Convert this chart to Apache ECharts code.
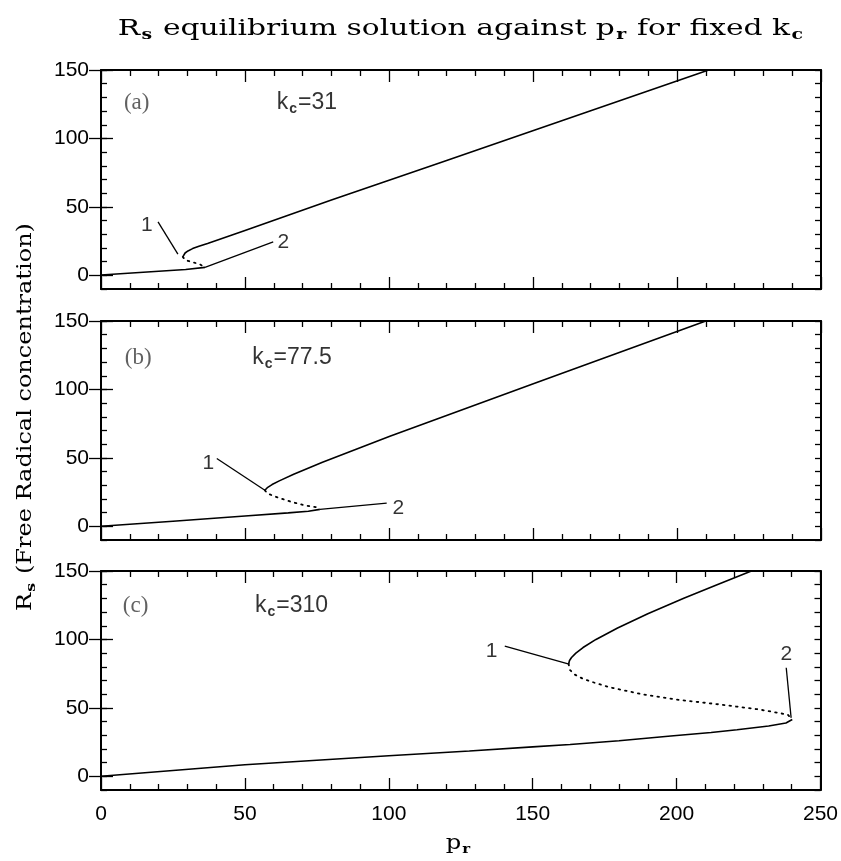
<!DOCTYPE html>
<html>
<head>
<meta charset="utf-8">
<script src="https://cdn.jsdelivr.net/npm/echarts/dist/echarts.min.js"></script>
<style>
html,body{margin:0;padding:0;background:#fff;}
#chart{width:841px;height:861px;}
</style>
</head>
<body>
<div id="chart"></div>
<script>
// ---------- data (p_r, R_s) ----------
const xTickLabels = [0, 50, 100, 150, 200, 250];
const yTickLabels = [0, 50, 100, 150];
const yMinorTicks = [-10, 0, 10, 20, 30, 40, 50, 60, 70, 80, 90, 100, 110, 120, 130, 140, 150];

// panel (a) k_c = 31
const aLower = [[0, 0.2], [29.4, 4.3], [36.1, 5.8]];
const aUnstable = [[28.4, 13.5], [28.6, 12.3], [29.3, 11.1], [31.3, 9.9], [34.2, 8.2], [36.1, 5.8]];
const aUpper = [[28.4, 13.5], [28.6, 14.8], [29.2, 16.3], [30.2, 17.8], [31.8, 19.5], [34, 21.2], [37, 23.3], [50, 32.8], [80, 55], [118, 82.5], [211, 150]];
const aLeader1 = [[19.8, 39.1], [26.7, 15.5]];
const aLeader2 = [[36.1, 5.8], [59.8, 24.5]];
const aLabel1 = [15.9, 36.7];
const aLabel2 = [63.3, 24.5];
const aTag = [12.4, 126];
const aKc = [61, 126];

// panel (b) k_c = 77.5
const bLower = [[0, 0], [25, 3.7], [50, 7.5], [65, 9.8], [72, 11], [76, 12.4]];
const bUnstable = [[56.9, 26.3], [57.8, 24], [61.3, 21.1], [66, 17.9], [70.6, 15.4], [75.1, 13.8], [76, 12.4]];
const bUpper = [[56.9, 26.3], [57.2, 27.4], [57.9, 28.5], [59.4, 30.5], [61.9, 33.2], [66.9, 38], [76.9, 46.8], [100.3, 65.8], [151.3, 105], [210, 150]];
const bLeader1 = [[40.2, 49.5], [56.9, 26.3]];
const bLeader2 = [[76, 12.4], [99.2, 17]];
const bLabel1 = [37.3, 45.9];
const bLabel2 = [103.2, 13.5];
const bTag = [12.9, 123];
const bKc = [52.5, 123];

// panel (c) k_c = 310
const cLower = [[0, 0], [50, 8.5], [100, 15], [128, 18.5], [150, 21.5], [163, 23.2], [180, 26], [198, 29.5], [212, 32], [221, 34], [232, 36.8], [238, 39], [240.2, 41.5]];
const cUnstable = [[162.5, 82.2], [162.8, 78], [164.5, 74.5], [167.5, 71.2], [172, 68], [176.7, 65.1], [188.3, 59.8], [199.9, 56.1], [215, 52.5], [228.8, 48.8], [238.6, 45.1], [240.2, 41.5]];
const cUpper = [[162.5, 82.2], [162.8, 84.6], [163.5, 86.8], [165, 90], [167.5, 94.1], [172, 100], [179.5, 108.4], [190, 118.8], [202.5, 130.1], [214.5, 140.4], [226, 150]];
const cLeader1 = [[140.3, 95.1], [162.3, 82.2]];
const cLeader2 = [[238.1, 79.3], [239.8, 42.7]];
const cLabel1 = [135.7, 91.5];
const cLabel2 = [238.1, 89.5];
const cTag = [12, 124.4];
const cKc = [53.5, 124.4];

const panels = [
  {lower: aLower, unstable: aUnstable, upper: aUpper, l1: aLeader1, l2: aLeader2, t1: aLabel1, t2: aLabel2, tag: aTag, tagText: '(a)', kc: aKc, kcText: '31'},
  {lower: bLower, unstable: bUnstable, upper: bUpper, l1: bLeader1, l2: bLeader2, t1: bLabel1, t2: bLabel2, tag: bTag, tagText: '(b)', kc: bKc, kcText: '77.5'},
  {lower: cLower, unstable: cUnstable, upper: cUpper, l1: cLeader1, l2: cLeader2, t1: cLabel1, t2: cLabel2, tag: cTag, tagText: '(c)', kc: cKc, kcText: '310'}
];

// ---------- layout ----------
const SANS = 'Liberation Sans, Arial, sans-serif';
const SERIF = 'DejaVu Serif, serif';
const gridTops = [70, 321, 571];
const gridLeft = 101, gridWidth = 720, gridHeight = 219;

const grids = [], xAxes = [], yAxes = [], series = [];

gridTops.forEach((top, i) => {
  grids.push({left: gridLeft, top: top, width: gridWidth, height: gridHeight, show: false});
  const isLast = i === gridTops.length - 1;
  ['bottom', 'top'].forEach(pos => {
    xAxes.push({
      type: 'value', gridIndex: i, position: pos, min: 0, max: 250, interval: 50,
      axisLine: {show: true, onZero: false, lineStyle: {color: '#000', width: 2}},
      axisTick: {show: true, inside: true, length: 12, lineStyle: {color: '#000', width: 1.3}},
      minorTick: {show: true, splitNumber: 5, length: 6, lineStyle: {color: '#000', width: 1.3}},
      axisLabel: {show: isLast && pos === 'bottom', customValues: xTickLabels, margin: 14,
        fontFamily: SANS, fontSize: 21, color: '#000'},
      splitLine: {show: false}, minorSplitLine: {show: false}
    });
  });
  ['left', 'right'].forEach(pos => {
    // minor ticks (every 10)
    yAxes.push({
      type: 'value', gridIndex: i, position: pos, min: -10, max: 150, interval: 10,
      axisLine: {show: true, onZero: false, lineStyle: {color: '#000', width: 2}},
      axisTick: {show: true, inside: true, length: 6, customValues: yMinorTicks, lineStyle: {color: '#000', width: 1.3}},
      axisLabel: {show: pos === 'left', customValues: yTickLabels, margin: 12,
        fontFamily: SANS, fontSize: 21, color: '#000'},
      splitLine: {show: false}
    });
    // major ticks (every 50)
    yAxes.push({
      type: 'value', gridIndex: i, position: pos, min: -10, max: 150, interval: 10,
      axisLine: {show: false},
      axisTick: {show: true, inside: true, length: 12, customValues: yTickLabels, lineStyle: {color: '#000', width: 1.3}},
      axisLabel: {show: false},
      splitLine: {show: false}
    });
  });
});

const solid = {color: '#000', width: 1.6};
const thin = {color: '#000', width: 1.3};

panels.forEach((p, i) => {
  const xi = 2 * i, yi = 4 * i;
  const base = {type: 'line', xAxisIndex: xi, yAxisIndex: yi, symbol: 'none', smooth: false, silent: true, animation: false};
  series.push(Object.assign({}, base, {name: 'lower' + i, data: p.lower, lineStyle: solid}));
  series.push(Object.assign({}, base, {name: 'unstable' + i, data: p.unstable, lineStyle: {color: '#000', width: 1.8, type: [1.6, 5], cap: 'round'}}));
  series.push(Object.assign({}, base, {name: 'upper' + i, data: p.upper, lineStyle: solid}));
  series.push(Object.assign({}, base, {name: 'leader1_' + i, data: p.l1, lineStyle: thin}));
  series.push(Object.assign({}, base, {name: 'leader2_' + i, data: p.l2, lineStyle: thin}));
  const txt = (pt, text, opts) => ({
    type: 'scatter', xAxisIndex: xi, yAxisIndex: yi, symbolSize: 0, silent: true, animation: false,
    data: [pt],
    label: Object.assign({show: true, formatter: text, color: '#000'}, opts)
  });
  series.push(txt(p.t1, '1', {position: 'inside', fontFamily: SANS, fontSize: 21}));
  series.push(txt(p.t2, '2', {position: 'inside', fontFamily: SANS, fontSize: 21}));
  series.push(txt(p.tag, p.tagText, {position: 'inside', fontFamily: 'Liberation Serif, serif', fontSize: 23, color: '#3a3a3a'}));
  series.push(txt(p.kc, '{n|k}{s|c}{n|=' + p.kcText + '}', {position: 'right', distance: 0,
    rich: {n: {fontFamily: SANS, fontSize: 23, color: '#000'},
           s: {fontFamily: SANS, fontSize: 14, fontWeight: 'bold', color: '#000', padding: [13, 1, 0, 1]}}}));
});

const chart = echarts.init(document.getElementById('chart'), null, {renderer: 'canvas'});
chart.setOption({
  animation: false,
  backgroundColor: '#fff',
  grid: grids,
  xAxis: xAxes,
  yAxis: yAxes,
  series: series,
  graphic: [
    {type: 'text', x: 461, y: 29, scaleX: 1.35, style: {
      text: '{n|R}{s|s}{n| equilibrium solution against p}{s|r}{n| for fixed k}{s|c}',
      align: 'center', verticalAlign: 'middle',
      rich: {n: {fontFamily: SERIF, fontSize: 22, color: '#000'},
             s: {fontFamily: SERIF, fontSize: 14, fontWeight: 'bold', color: '#000', padding: [12, 1, 0, 1]}}
    }},
    {type: 'text', x: 458, y: 844, scaleX: 1.15, style: {
      text: '{n|p}{s|r}', align: 'center', verticalAlign: 'middle',
      rich: {n: {fontFamily: SERIF, fontSize: 21, color: '#000'},
             s: {fontFamily: SERIF, fontSize: 13, fontWeight: 'bold', color: '#000', padding: [12, 0, 0, 1]}}
    }},
    {type: 'text', x: 26, y: 417, rotation: Math.PI / 2, scaleX: 1.2, style: {
      text: '{n|R}{s|s}{n| (Free Radical concentration)}', align: 'center', verticalAlign: 'middle',
      rich: {n: {fontFamily: SERIF, fontSize: 20, color: '#000'},
             s: {fontFamily: SERIF, fontSize: 13, fontWeight: 'bold', color: '#000', padding: [12, 1, 0, 1]}}
    }}
  ]
});
</script>
</body>
</html>
